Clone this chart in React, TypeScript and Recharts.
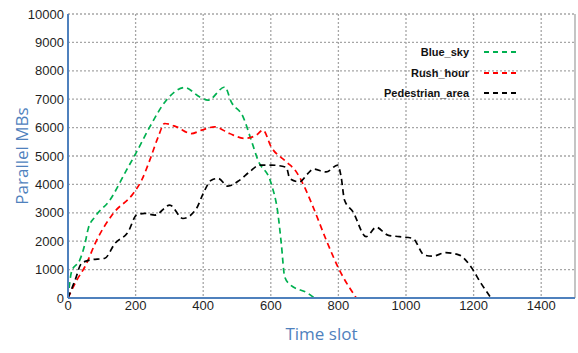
import { LineChart, Line, XAxis, YAxis, CartesianGrid, ReferenceLine } from "recharts";

const blueSky = [
  { t: 0, v: 0 }, { t: 11, v: 950 }, { t: 35, v: 1340 }, { t: 50, v: 1900 }, { t: 60, v: 2450 },
  { t: 80, v: 2860 }, { t: 124, v: 3450 }, { t: 173, v: 4500 }, { t: 203, v: 5145 }, { t: 242, v: 6025 },
  { t: 291, v: 6965 }, { t: 345, v: 7410 }, { t: 390, v: 7080 }, { t: 414, v: 6965 }, { t: 464, v: 7430 },
  { t: 483, v: 6905 }, { t: 518, v: 6380 }, { t: 542, v: 5560 }, { t: 562, v: 4855 }, { t: 601, v: 4035 },
  { t: 621, v: 2980 }, { t: 631, v: 1925 }, { t: 641, v: 750 }, { t: 656, v: 480 }, { t: 710, v: 165 },
  { t: 729, v: 0 },
];

const rushHour = [
  { t: 0, v: 0 }, { t: 26, v: 630 }, { t: 50, v: 1100 }, { t: 85, v: 2040 }, { t: 134, v: 2980 },
  { t: 193, v: 3680 }, { t: 218, v: 4150 }, { t: 242, v: 4855 }, { t: 267, v: 5675 }, { t: 286, v: 6145 },
  { t: 321, v: 6025 }, { t: 365, v: 5790 }, { t: 395, v: 5910 }, { t: 434, v: 6025 }, { t: 478, v: 5790 },
  { t: 523, v: 5620 }, { t: 557, v: 5735 }, { t: 577, v: 5910 }, { t: 601, v: 5320 }, { t: 646, v: 4795 },
  { t: 675, v: 4450 }, { t: 700, v: 3900 }, { t: 725, v: 3210 }, { t: 764, v: 2040 }, { t: 803, v: 985 },
  { t: 853, v: 0 },
];

const pedestrianArea = [
  { t: 0, v: 0 }, { t: 21, v: 630 }, { t: 40, v: 1220 }, { t: 65, v: 1335 }, { t: 109, v: 1400 },
  { t: 139, v: 1925 }, { t: 178, v: 2330 }, { t: 203, v: 2920 }, { t: 227, v: 2980 }, { t: 257, v: 2920 },
  { t: 301, v: 3270 }, { t: 340, v: 2800 }, { t: 380, v: 3150 }, { t: 400, v: 3680 }, { t: 424, v: 4150 },
  { t: 444, v: 4210 }, { t: 473, v: 3940 }, { t: 508, v: 4150 }, { t: 537, v: 4440 }, { t: 567, v: 4680 },
  { t: 601, v: 4680 }, { t: 646, v: 4600 }, { t: 656, v: 4210 }, { t: 685, v: 4090 }, { t: 710, v: 4385 },
  { t: 725, v: 4540 }, { t: 764, v: 4440 }, { t: 798, v: 4680 }, { t: 808, v: 4270 }, { t: 818, v: 3450 },
  { t: 843, v: 3035 }, { t: 882, v: 2160 }, { t: 912, v: 2490 }, { t: 946, v: 2215 }, { t: 980, v: 2160 },
  { t: 1020, v: 2100 }, { t: 1054, v: 1510 }, { t: 1079, v: 1475 }, { t: 1118, v: 1595 }, { t: 1158, v: 1510 },
  { t: 1192, v: 1100 }, { t: 1222, v: 515 }, { t: 1250, v: 30 },
];

const xTicks = [0, 200, 400, 600, 800, 1000, 1200, 1400];
const yTicks = [0, 1000, 2000, 3000, 4000, 5000, 6000, 7000, 8000, 9000, 10000];

const series = [
  { name: "Blue_sky", color: "#00b050", data: blueSky },
  { name: "Rush_hour", color: "#ff0000", data: rushHour },
  { name: "Pedestrian_area", color: "#000000", data: pedestrianArea },
];

const axisBlue = "#4f81bd";
const tickStyle = { fontSize: 13, fill: "#1f1f1f", fontFamily: "Liberation Sans, Arial, sans-serif" };

// legend sits inside the plot, drawn as an overlay so it doesn't shrink the plot
function LegendBox() {
  return (
    <div
      style={{
        position: "absolute",
        left: 372,
        top: 42,
        fontFamily: "Liberation Sans, Arial, sans-serif",
        fontWeight: "bold",
        fontSize: 11,
      }}
    >
      {series.map((s) => (
        <div key={s.name} style={{ display: "flex", alignItems: "center", height: 20.5 }}>
          <span style={{ width: 97, textAlign: "right", color: "#111" }}>{s.name}</span>
          <svg width={50} height={10} style={{ marginLeft: 13 }}>
            <line x1={2} y1={5} x2={35} y2={5} stroke={s.color} strokeWidth={2} strokeDasharray="5 4" />
          </svg>
        </div>
      ))}
    </div>
  );
}

export default function App() {
  return (
    <div style={{ position: "absolute", left: 0, top: 0, width: 578, height: 353, background: "#fff" }}>
      <LineChart width={578} height={353} margin={{ top: 14, right: 3, bottom: 5, left: 8 }}>
        <CartesianGrid stroke="#a6a6a6" strokeDasharray="2 2" strokeWidth={1.3} />
        <ReferenceLine x={1500} stroke="#a6a6a6" strokeDasharray="2 2" strokeWidth={1.3} />
        <XAxis
          type="number"
          dataKey="t"
          domain={[0, 1500]}
          ticks={xTicks}
          allowDataOverflow
          stroke={axisBlue}
          strokeWidth={2}
          tickLine={false}
          tickSize={0}
          tickMargin={3}
          tick={tickStyle}
          height={50}
          label={{ value: "Time slot", position: "insideBottom", offset: 8, fill: axisBlue, fontSize: 17, fontFamily: "Open Sans, sans-serif" }}
        />
        <YAxis
          type="number"
          domain={[0, 10000]}
          ticks={yTicks}
          stroke={axisBlue}
          strokeWidth={2}
          tickLine={false}
          tickSize={0}
          tickMargin={4}
          tick={tickStyle}
          width={60}
          label={{ value: "Parallel MBs", angle: -90, position: "insideLeft", offset: 14, fill: axisBlue, fontSize: 17, fontFamily: "Open Sans, sans-serif", style: { textAnchor: "middle" } }}
        />
        {series.map((s) => (
          <Line
            key={s.name}
            name={s.name}
            data={s.data}
            dataKey="v"
            type="monotone"
            stroke={s.color}
            strokeWidth={1.7}
            strokeDasharray="6 4"
            dot={false}
            activeDot={false}
            isAnimationActive={false}
          />
        ))}
      </LineChart>
      <LegendBox />
    </div>
  );
}
